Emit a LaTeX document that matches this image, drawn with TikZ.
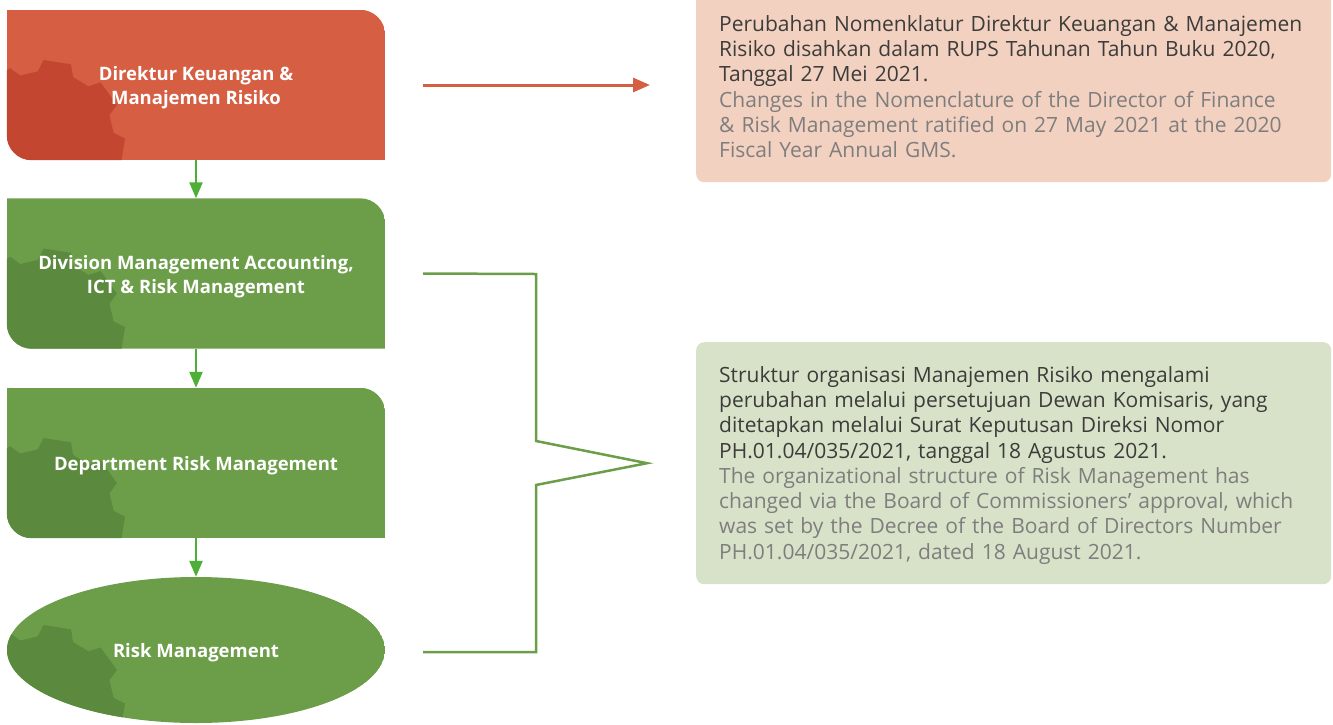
\documentclass[tikz,border=0pt]{standalone}
\usepackage{fontspec}
\setmainfont{Open Sans}
\usetikzlibrary{arrows.meta,backgrounds,shapes.geometric}
\definecolor{redbox}{HTML}{D55E43}
\definecolor{redgear}{HTML}{C34730}
\definecolor{greenbox}{HTML}{6C9E4A}
\definecolor{greengear}{HTML}{5B893E}
\definecolor{arrowgreen}{HTML}{4DAF36}
\definecolor{peach}{HTML}{F3D1C0}
\definecolor{palegreen}{HTML}{D8E2C8}
\definecolor{textdark}{HTML}{3C3C3B}
\definecolor{textgray}{HTML}{7E7E7E}

\newcommand\mygear[2]{%
  \fill[#2] ([shift={(66:69pt)}]#1) \foreach \a in {81,126,...,396}{
    -- ([shift={({\a-15}:69pt)}]#1) -- ([shift={({\a-10}:80pt)}]#1)
    -- ([shift={({\a+10}:80pt)}]#1) -- ([shift={({\a+15}:69pt)}]#1)} -- cycle;}

\newcommand\boxshape[3]{%
  \begin{scope}[on background layer]
  \begin{scope}
    \clip (#1.north west) -- ([xshift=-25pt]#1.north east)
      .. controls ([xshift=-11.2pt]#1.north east) and ([yshift=-11.2pt]#1.north east) .. ([yshift=-25pt]#1.north east)
      -- (#1.south east) -- ([xshift=25pt]#1.south west)
      .. controls ([xshift=11.2pt]#1.south west) and ([yshift=11.2pt]#1.south west) .. ([yshift=25pt]#1.south west)
      -- cycle;
    \fill[#2] (#1.north west) rectangle (#1.south east);
    \coordinate (#1g) at ([shift={(-151pt,-55pt)}]#1.center);
    \mygear{#1g}{#3}
  \end{scope}
  \end{scope}}

\newcommand\ovalshape[3]{%
  \begin{scope}[on background layer]
  \begin{scope}
    \clip (#1.center) ellipse [x radius=189pt, y radius=73pt];
    \fill[#2] (#1.center) ellipse [x radius=189pt, y radius=73pt];
    \coordinate (#1g) at ([shift={(-151pt,-55pt)}]#1.center);
    \mygear{#1g}{#3}
  \end{scope}
  \end{scope}}

\newcommand\lift{\rule{0pt}{20pt}}

\tikzset{
  orgbox/.style={rectangle, minimum width=378pt, minimum height=150pt, inner sep=0pt,
    align=center, text=white, font=\bfseries\fontsize{18.5}{24}\selectfont},
  orgoval/.style={ellipse, minimum width=378pt, minimum height=146pt, inner sep=0pt,
    align=center, text=white, font=\bfseries\fontsize{18.5}{24}\selectfont},
  notebox/.style={rectangle, rounded corners=8pt, minimum width=635pt, inner sep=0pt, anchor=north west},
  notetext/.style={anchor=north west, inner sep=0pt, text width=610pt, align=left,
    font=\fontsize{21}{25.3}\selectfont},
  redarr/.style={draw=redbox, line width=3pt, -{Triangle[length=17pt,width=14pt]}},
  greenarr/.style={draw=arrowgreen, line width=2.5pt, -{Triangle[length=16pt,width=13pt]}},
  bracketline/.style={draw=greenbox, line width=2.5pt, miter limit=10},
}

\begin{document}
\begin{tikzpicture}[x=1pt, y=-1pt]
\useasboundingbox (0,0) rectangle (1333,724);

\node[orgbox] (d1) at (196,85) {\lift Direktur Keuangan \&\\Manajemen Risiko};
\node[orgbox] (d2) at (196,273.5) {\lift Division Management Accounting,\\ICT \& Risk Management};
\node[orgbox] (d3) at (196,463) {\lift Department Risk Management};
\node[orgoval] (rm) at (196,650) {\lift Risk Management};

\boxshape{d1}{redbox}{redgear}
\boxshape{d2}{greenbox}{greengear}
\boxshape{d3}{greenbox}{greengear}
\ovalshape{rm}{greenbox}{greengear}

\node[notebox, fill=peach, minimum height=202pt] (n1) at (696,-20) {};
\node[notebox, fill=palegreen, minimum height=242pt] (n2) at (696,342) {};

\node[notetext] (n1t) at (719,15) {{\color{textdark}Perubahan Nomenklatur Direktur Keuangan \& Manajemen\\Risiko disahkan dalam RUPS Tahunan Tahun Buku 2020,\\Tanggal 27 Mei 2021.}\\{\color{textgray}Changes in the Nomenclature of the Director of Finance\\\& Risk Management ratified on 27 May 2021 at the 2020\\Fiscal Year Annual GMS.}};

\node[notetext] (n2t) at (719,366) {{\color{textdark}Struktur organisasi Manajemen Risiko mengalami\\perubahan melalui persetujuan Dewan Komisaris, yang\\ditetapkan melalui Surat Keputusan Direksi Nomor\\PH.01.04/035/2021, tanggal 18 Agustus 2021.}\\{\color{textgray}The organizational structure of Risk Management has\\changed via the Board of Commissioners’ approval, which\\was set by the Decree of the Board of Directors Number\\PH.01.04/035/2021, dated 18 August 2021.}};

\draw[greenarr] (d1.south) -- (d2.north);
\draw[greenarr] (d2.south) -- (d3.north);
\draw[greenarr] (d3.south) -- (rm.north);

\coordinate (a1) at (d1.east -| n1.west);
\draw[redarr] ([xshift=38pt]d1.east) -- ([xshift=-46pt]a1);

\draw[bracketline] ([xshift=38pt]d2.east) -- (536,274) -- (536,441) -- ([xshift=-49pt]n2.west) -- (536,485) -- (536,652) -- ([xshift=38pt,yshift=-2pt]rm.east);
\end{tikzpicture}
\end{document}
